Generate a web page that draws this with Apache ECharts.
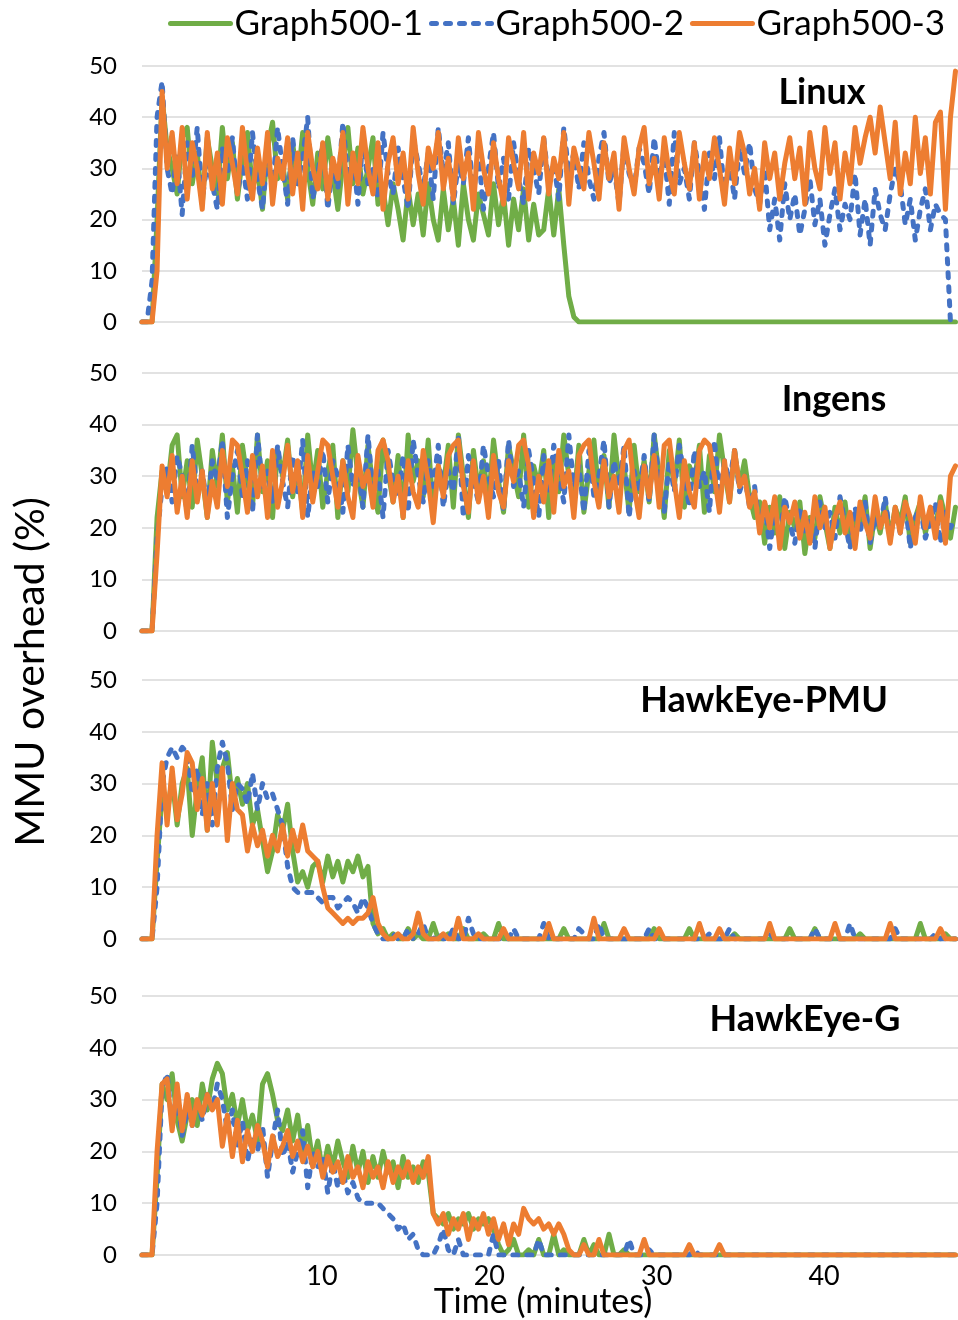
<!DOCTYPE html>
<html><head><meta charset="utf-8">
<script src="https://cdn.jsdelivr.net/npm/echarts@6/dist/echarts.min.js"></script>
<style>html,body{margin:0;padding:0;background:#fff}#c{width:958px;height:1320px}</style>
</head><body><div id="c"></div>
<script>
const seriesNames = ['Graph500-1', 'Graph500-2', 'Graph500-3'];
const panelNames = ['Linux', 'Ingens', 'HawkEye-PMU', 'HawkEye-G'];
const xTickValues = [10, 20, 30, 40];
const timeStart = -0.75;   // minutes, first sample
const timeStep = 0.3;      // minutes between samples

// ---------- Linux ----------
const linux1 = [
0,0,0,20,44,34,30,25,36,38,
27,33,23,36,30,25,38,28,35,24,
32,37,26,30,22,34,39,28,31,24,
35,27,37,30,23,33,26,36,29,22,
31,38,27,34,25,30,36,23,26,19,
27,22,16,26,19,25,17,27,20,16,
26,18,24,15,27,20,16,25,21,17,
27,19,25,15,24,18,26,16,23,17,
18,26,17,26,15,5,1,0,0,0,
0,0,0,0,0,0,0,0,0,0,
0,0,0,0,0,0,0,0,0,0,
0,0,0,0,0,0,0,0,0,0,
0,0,0,0,0,0,0,0,0,0,
0,0,0,0,0,0,0,0,0,0,
0,0,0,0,0,0,0,0,0,0,
0,0,0,0,0,0,0,0,0,0,
0,0,0];
const linux2 = [
0,0,8,40,47,30,25,33,21,35,
28,38,24,31,27,22,34,29,36,25,
31,24,37,28,22,33,26,38,30,23,
36,27,32,40,24,29,35,22,31,26,
39,28,33,23,36,27,30,24,37,29,
25,34,28,22,36,31,26,33,24,38,
29,35,23,31,27,36,25,33,22,30,
37,26,32,24,35,28,23,34,30,25,
36,27,31,24,38,29,33,26,35,28,
24,32,37,27,30,23,35,29,26,34,
31,25,36,28,33,23,37,27,30,24,
35,29,22,33,28,36,25,31,24,34,
29,35,26,23,30,18,24,16,27,20,
25,17,22,28,19,24,15,21,26,18,
23,20,29,17,24,15,26,21,18,25,
30,27,19,24,16,22,26,18,23,21,
20,0,0];
const linux3 = [
0,0,0,10,45,30,37,27,38,24,
35,30,22,37,26,33,23,36,31,25,
38,29,24,34,27,37,23,32,28,36,
25,33,22,37,30,26,35,24,32,28,
37,23,33,27,38,30,25,35,22,31,
36,27,33,24,38,29,23,34,30,37,
26,32,24,36,28,33,22,37,30,25,
35,28,23,36,31,26,37,24,33,29,
36,25,32,28,37,23,34,30,26,37,
31,24,35,28,33,22,36,30,25,34,
38,27,32,24,36,29,25,37,31,26,
35,24,33,28,36,30,23,34,27,37,
33,25,30,22,35,28,33,24,31,36,
28,34,23,37,30,26,38,29,35,24,
33,27,38,31,36,40,33,42,35,28,
39,25,33,27,40,29,36,25,39,41,
22,40,49];

// ---------- Ingens ----------
const ingens1 = [
0,0,0,22,31,27,36,38,26,33,
24,37,30,22,35,28,38,25,32,23,
36,29,24,38,27,33,22,35,30,37,
26,32,23,38,28,35,24,31,36,22,
33,27,39,30,24,36,28,23,37,31,
25,34,22,38,29,33,26,37,23,32,
28,36,24,38,30,22,35,27,33,25,
37,29,23,36,31,26,38,24,32,28,
35,22,33,27,38,30,25,36,23,31,
37,26,34,24,38,29,32,23,36,27,
33,25,38,30,22,35,28,37,24,32,
29,36,23,34,27,38,31,25,35,28,
33,26,22,25,17,24,19,26,16,23,
20,25,15,22,18,26,21,16,24,19,
25,17,22,20,26,16,23,19,25,18,
24,21,26,17,22,25,19,23,20,26,
22,18,24];
const ingens2 = [
0,0,0,18,28,32,25,34,30,23,
36,27,31,24,33,29,37,22,30,35,
26,33,23,38,28,31,25,36,29,24,
34,27,37,22,31,28,35,25,33,30,
23,36,28,32,24,38,27,31,22,35,
29,26,34,23,37,30,25,33,28,36,
24,31,27,38,22,34,29,25,36,30,
26,33,23,37,28,31,24,35,29,22,
34,27,36,30,25,38,28,32,23,35,
26,30,37,24,33,28,36,22,31,27,
34,25,38,29,23,33,27,36,30,24,
35,28,31,23,37,26,33,29,35,27,
30,24,28,20,25,16,23,18,26,21,
17,24,19,22,16,25,20,23,18,26,
21,16,24,19,25,17,22,20,26,18,
23,19,25,16,22,24,18,21,25,17,
23,20,22];
const ingens3 = [
0,0,0,15,32,26,34,23,30,22,
33,25,31,22,29,24,35,28,37,36,
30,23,34,26,32,22,35,24,29,36,
27,33,22,34,25,31,37,36,30,24,
33,26,22,34,28,31,24,35,37,33,
25,30,22,33,27,24,35,29,21,32,
26,34,36,37,28,23,33,25,30,22,
34,27,24,33,29,36,37,32,22,30,
25,33,23,35,28,31,22,34,36,37,
29,24,33,26,30,23,35,37,28,22,
32,26,34,24,36,37,29,22,33,27,
24,35,37,36,30,23,33,25,35,28,
30,24,27,19,25,20,26,16,24,21,
25,18,23,17,26,20,24,16,22,25,
19,23,16,25,21,18,26,20,23,17,
24,19,25,22,17,26,20,24,18,25,
17,30,32];

// ---------- HawkEye-PMU ----------
const pmu1 = [
0,0,0,15,28,24,31,22,30,33,
20,29,35,21,38,30,33,36,27,31,
26,30,22,25,19,13,17,24,21,26,
17,11,13,10,14,15,11,16,12,15,
11,15,13,16,12,14,3,1,2,0,
1,0,0,2,0,1,0,0,3,0,
0,1,0,0,2,0,0,0,1,0,
0,3,0,0,0,0,0,0,0,0,
0,0,0,0,2,0,0,0,0,0,
0,0,3,0,0,0,0,0,0,0,
0,0,2,0,0,0,0,0,0,2,
0,0,0,0,0,0,0,0,1,0,
0,0,0,0,0,0,0,0,0,2,
0,0,0,0,2,0,0,0,0,0,
0,0,0,1,0,0,0,0,0,0,
0,0,0,0,0,3,0,0,0,0,
1,0,0];
const pmu2 = [
0,0,0,10,30,35,37,35,37,36,
28,33,24,30,22,33,38,34,25,30,
29,26,32,25,30,27,28,25,22,14,
10,9,9,9,9,8,7,8,8,6,
7,8,7,5,8,6,3,1,0,0,
1,0,0,2,0,1,3,0,0,1,
0,0,2,0,0,4,1,0,0,0,
0,0,0,0,2,0,0,0,0,0,
3,0,0,0,0,0,0,2,1,0,
0,3,0,0,0,0,0,0,0,0,
0,2,0,0,0,0,0,0,0,0,
0,0,0,1,0,0,0,2,0,0,
0,0,0,0,0,1,0,0,0,0,
0,0,0,0,2,0,0,0,0,0,
0,3,0,0,0,0,0,0,0,0,
2,0,0,0,0,0,0,0,1,0,
0,0,0];
const pmu3 = [
0,0,0,20,34,22,33,23,28,36,
34,25,31,21,30,22,33,19,30,25,
24,17,22,18,21,16,20,17,22,16,
21,17,22,17,16,15,10,6,5,4,
3,4,3,4,4,5,8,3,1,0,
0,1,0,0,1,5,1,0,0,0,
1,0,0,4,0,0,0,1,0,0,
0,0,2,0,0,0,0,0,0,0,
0,3,0,0,0,0,0,0,0,0,
4,0,0,0,0,0,2,0,0,0,
0,0,0,2,0,0,0,0,0,0,
0,3,0,0,0,2,0,0,0,0,
0,0,0,0,0,3,0,0,0,0,
0,0,0,0,0,0,0,0,3,0,
0,0,0,0,0,0,0,0,0,3,
0,0,0,0,0,0,0,0,0,2,
0,0,0];

// ---------- HawkEye-G ----------
const hawkG1 = [
0,0,0,15,33,30,35,26,22,27,
30,25,33,28,34,37,35,28,31,25,
30,24,27,22,33,35,31,26,24,28,
22,27,20,25,18,22,16,21,17,22,
18,15,21,16,20,14,19,15,20,16,
18,13,19,15,17,14,18,16,8,7,
6,8,5,7,6,8,5,7,6,7,
5,2,0,1,3,0,0,1,0,3,
0,0,4,0,1,0,0,0,3,0,
2,0,0,4,0,0,1,0,0,0,
0,0,0,0,0,0,0,0,0,0,
0,0,0,0,0,0,0,0,0,0,
0,0,0,0,0,0,0,0,0,0,
0,0,0,0,0,0,0,0,0,0,
0,0,0,0,0,0,0,0,0,0,
0,0,0,0,0,0,0,0,0,0,
0,0,0];
const hawkG2 = [
0,0,0,10,32,35,25,30,23,28,
25,30,26,31,28,33,30,24,28,21,
26,18,23,20,25,15,22,28,19,22,
16,20,24,13,20,17,19,12,18,13,
16,12,14,11,10,10,10,10,9,8,
7,5,6,3,4,1,0,0,0,2,
5,1,0,3,0,0,0,0,0,0,
4,0,0,0,0,0,0,0,0,3,
0,0,0,0,0,0,0,0,0,0,
0,0,0,0,0,0,0,3,0,0,
0,1,0,0,0,0,0,0,0,0,
1,0,0,0,0,0,0,0,0,0,
0,0,0,0,0,0,0,0,0,0,
0,0,0,0,0,0,0,0,0,0,
0,0,0,0,0,0,0,0,0,0,
0,0,0,0,0,0,0,0,0,0,
0,0,0];
const hawkG3 = [
0,0,0,20,33,34,24,33,24,31,
25,30,27,31,28,30,21,27,19,26,
18,24,20,25,22,17,23,19,21,24,
19,22,18,21,17,20,15,19,16,18,
14,19,15,17,13,18,15,17,13,18,
14,17,15,18,14,17,15,19,8,6,
8,4,7,5,8,3,7,5,8,4,
7,3,6,2,6,4,9,7,6,7,
5,6,4,6,4,1,0,0,2,0,
0,3,0,0,0,0,0,0,0,0,
3,0,0,0,0,0,0,0,0,2,
0,0,0,0,0,2,0,0,0,0,
0,0,0,0,0,0,0,0,0,0,
0,0,0,0,0,0,0,0,0,0,
0,0,0,0,0,0,0,0,0,0,
0,0,0,0,0,0,0,0,0,0,
0,0,0];

const panelData = [
  [linux1, linux2, linux3],
  [ingens1, ingens2, ingens3],
  [pmu1, pmu2, pmu3],
  [hawkG1, hawkG2, hawkG3]
];

// ---------- layout / style ----------
const FONT = 'Lato, "Open Sans", sans-serif';
const colors = ['#70AD47', '#4472C4', '#ED7D31'];
const gridTops = [66, 373, 680, 996];
const gridHeights = [256, 258, 259, 259];
const titlePos = [[822, 92], [834, 399], [764, 700], [805, 1019]];

const grids = [], xAxes = [], yAxes = [], series = [];
panelData.forEach((arrs, p) => {
  grids.push({ left: 142, width: 816, top: gridTops[p], height: gridHeights[p] });
  xAxes.push({
    gridIndex: p, type: 'value', min: -0.75, max: 48,
    axisLine: { show: false }, axisTick: { show: false }, splitLine: { show: false },
    axisLabel: p === 3 ? {
      show: true, customValues: xTickValues, fontSize: 27, color: '#000',
      fontFamily: FONT, margin: 8
    } : { show: false }
  });
  yAxes.push({
    gridIndex: p, type: 'value', min: 0, max: 50, interval: 10,
    axisLine: { show: false }, axisTick: { show: false },
    splitLine: { show: true, lineStyle: { color: '#d9d9d9', width: 1.5 } },
    axisLabel: { fontSize: 24, color: '#000', fontFamily: FONT, margin: 25 }
  });
  arrs.forEach((vals, s) => {
    series.push({
      name: seriesNames[s], type: 'line', xAxisIndex: p, yAxisIndex: p,
      showSymbol: false, symbol: 'circle', symbolSize: 1, animation: false,
      data: vals.map((v, i) => [timeStart + i * timeStep, v]),
      lineStyle: {
        color: colors[s], width: 5, join: 'round', cap: 'round',
        type: s === 1 ? [5, 9] : 'solid'
      },
      itemStyle: { color: colors[s] },
      z: 2 + s
    });
  });
});

const graphic = panelNames.map((t, p) => ({
  type: 'text', x: titlePos[p][0], y: titlePos[p][1],
  style: { text: t, font: 'bold 36px ' + FONT, fill: '#000', textAlign: 'center', textVerticalAlign: 'middle' }
}));
graphic.push({
  type: 'text', x: 543, y: 1302,
  style: { text: 'Time (minutes)', font: '34px ' + FONT, fill: '#000', textAlign: 'center', textVerticalAlign: 'middle' }
});
graphic.push({
  type: 'text', x: 31, y: 672, rotation: Math.PI / 2,
  style: { text: 'MMU overhead (%)', font: '41px ' + FONT, fill: '#000', textAlign: 'center', textVerticalAlign: 'middle' }
});

const chart = echarts.init(document.getElementById('c'), null, { renderer: 'canvas' });
chart.setOption({
  animation: false,
  backgroundColor: '#fff',
  legend: {
    data: seriesNames, left: 168, top: 6, width: 790, padding: 0,
    itemWidth: 60, itemHeight: 2, itemGap: 6,
    lineStyle: { width: 5 },
    textStyle: { fontSize: 35, color: '#000', fontFamily: FONT, padding: [0, 0, 0, -1] }
  },
  grid: grids, xAxis: xAxes, yAxis: yAxes, series: series, graphic: graphic
});
</script>
</body></html>
